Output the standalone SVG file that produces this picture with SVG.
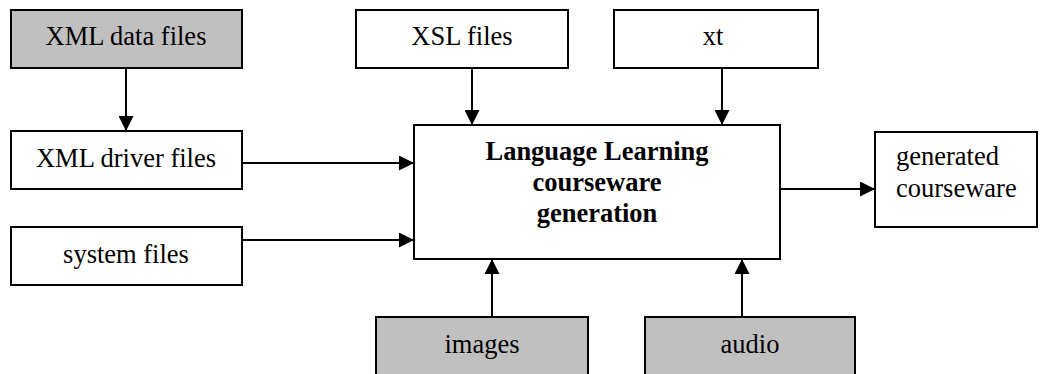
<svg xmlns="http://www.w3.org/2000/svg" width="1040" height="374" viewBox="0 0 1040 374">
<style>
.box{fill:#fff;stroke:#000;stroke-width:2}
.gray{fill:#c0c0c0}
.t{font-family:'Liberation Serif','Times New Roman',serif;font-size:26.5px;fill:#000}
.c{text-anchor:middle}
.b{font-weight:bold}
.ln{stroke:#000;stroke-width:2;fill:none;marker-end:url(#ah)}
</style>
<defs>
<marker id="ah" markerUnits="userSpaceOnUse" markerWidth="15" markerHeight="15" refX="15" refY="7.5" orient="auto">
<path d="M0,0 L15,7.5 L0,15 Z" fill="#000"/>
</marker>
</defs>
<rect width="1040" height="374" fill="#fff"/>
<g id="connectors">
<line class="ln" x1="126" y1="68" x2="126" y2="131"/>
<line class="ln" x1="472" y1="68" x2="472" y2="125"/>
<line class="ln" x1="722" y1="68" x2="722" y2="125"/>
<line class="ln" x1="242" y1="163" x2="414" y2="163"/>
<line class="ln" x1="242" y1="240" x2="414" y2="240"/>
<line class="ln" x1="492" y1="317" x2="492" y2="259"/>
<line class="ln" x1="742" y1="317" x2="742" y2="259"/>
<line class="ln" x1="780" y1="189" x2="875" y2="189"/>
</g>
<g id="xml-data">
<rect class="box gray" x="11" y="10" width="231" height="58"/>
<text class="t c" x="126" y="45">XML data files</text>
</g>
<g id="xsl">
<rect class="box" x="356" y="10" width="212" height="58"/>
<text class="t c" x="462" y="45">XSL files</text>
</g>
<g id="xt">
<rect class="box" x="614" y="10" width="204" height="58"/>
<text class="t c" x="713" y="45">xt</text>
</g>
<g id="xml-driver">
<rect class="box" x="11" y="131" width="231" height="58"/>
<text class="t c" x="126" y="167">XML driver files</text>
</g>
<g id="system">
<rect class="box" x="11" y="227" width="231" height="58"/>
<text class="t c" x="126" y="263">system files</text>
</g>
<g id="main">
<rect class="box" x="414" y="125" width="366" height="134"/>
<text class="t c b" x="597" y="160">Language Learning</text>
<text class="t c b" x="597" y="191">courseware</text>
<text class="t c b" x="597" y="222">generation</text>
</g>
<g id="generated">
<rect class="box" x="875" y="132" width="162" height="95"/>
<text class="t" x="896" y="165">generated</text>
<text class="t" x="896" y="197">courseware</text>
</g>
<g id="images">
<rect class="box gray" x="376" y="317" width="212" height="60"/>
<text class="t c" x="482" y="353">images</text>
</g>
<g id="audio">
<rect class="box gray" x="645" y="317" width="210" height="60"/>
<text class="t c" x="750" y="353">audio</text>
</g>
</svg>
